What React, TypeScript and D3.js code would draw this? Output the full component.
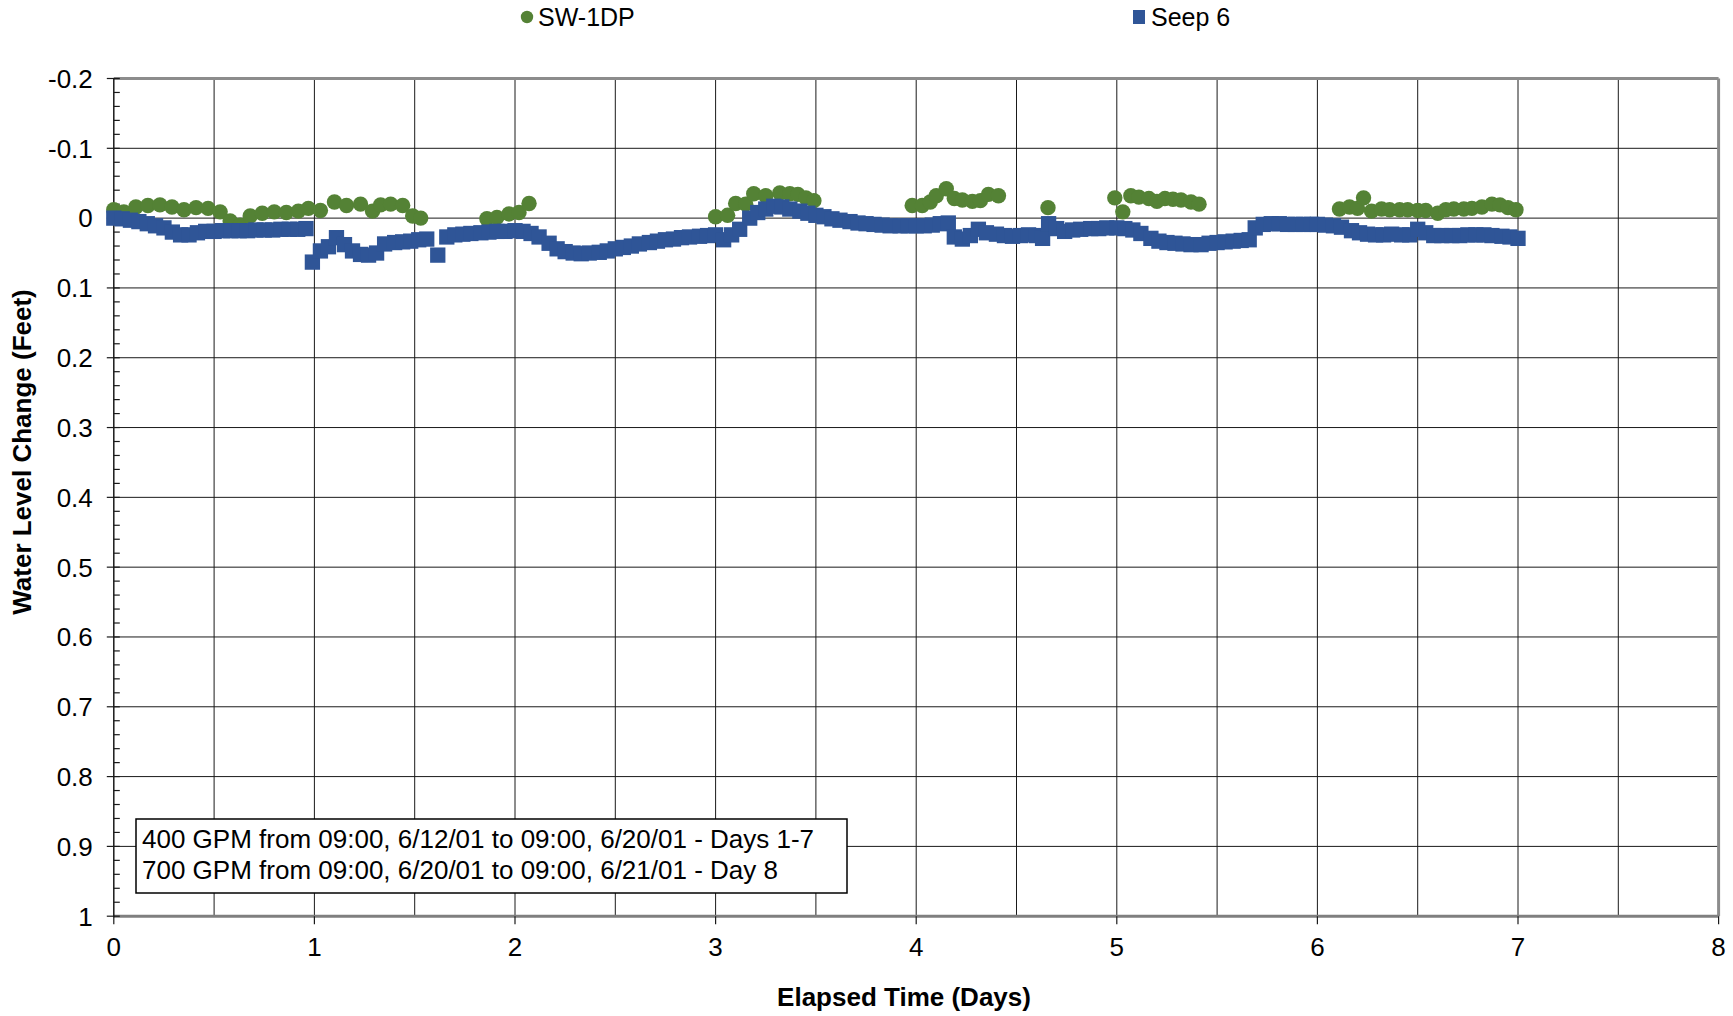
import React from "react";
import * as d3 from "d3";

const seepDays = [
  0, 0.042, 0.083, 0.125, 0.167, 0.208, 0.25, 0.292, 0.333, 0.375, 0.417, 0.458, 0.5, 0.542, 0.583, 0.625, 0.667,
  0.708, 0.75, 0.792, 0.833, 0.875, 0.917, 0.958,
  0.99, 1.03, 1.07, 1.11, 1.15, 1.19, 1.23, 1.27, 1.31, 1.35, 1.4, 1.44, 1.48, 1.52, 1.56, 1.615, 1.66, 1.7, 1.74,
  1.78, 1.83, 1.87, 1.91, 1.95, 2.0,
  2.04, 2.08, 2.12, 2.17, 2.21, 2.25, 2.29, 2.33, 2.37, 2.42, 2.46, 2.5, 2.54, 2.58, 2.62, 2.67, 2.71, 2.75, 2.79,
  2.83, 2.87, 2.92, 2.96, 3.0,
  3.04, 3.08, 3.12, 3.17, 3.21, 3.25, 3.29, 3.33, 3.37, 3.42, 3.46, 3.5, 3.54, 3.58, 3.62, 3.67, 3.71, 3.75, 3.79,
  3.83, 3.87, 3.92, 3.96, 4.0,
  4.04, 4.08, 4.12, 4.16, 4.19, 4.23, 4.27, 4.31, 4.35, 4.4, 4.44, 4.48, 4.52, 4.56, 4.6, 4.63, 4.66, 4.7, 4.74,
  4.78, 4.82, 4.87, 4.91, 4.95, 5.0,
  5.04, 5.08, 5.12, 5.17, 5.21, 5.25, 5.29, 5.33, 5.37, 5.42, 5.46, 5.5, 5.54, 5.58, 5.62, 5.66, 5.69, 5.73, 5.77,
  5.81, 5.85, 5.89, 5.93, 5.97, 6.0,
  6.04, 6.08, 6.12, 6.17, 6.21, 6.25, 6.29, 6.33, 6.37, 6.42, 6.46, 6.5, 6.54, 6.58, 6.62, 6.67, 6.71, 6.75, 6.79,
  6.83, 6.87, 6.92, 6.96, 7.0,
];
const seepValues = [
  0.0, 0.001, 0.003, 0.005, 0.008, 0.011, 0.014, 0.02, 0.024, 0.024, 0.021, 0.019, 0.019, 0.018, 0.018, 0.018, 0.018,
  0.017, 0.017, 0.017, 0.016, 0.016, 0.016, 0.015,
  0.063, 0.047, 0.041, 0.028, 0.038, 0.047, 0.052, 0.053, 0.05, 0.037, 0.035, 0.034, 0.033, 0.031, 0.03, 0.053,
  0.027, 0.024, 0.023, 0.022, 0.021, 0.02, 0.019, 0.019, 0.018,
  0.019, 0.022, 0.027, 0.036, 0.044, 0.048, 0.05, 0.051, 0.05, 0.049, 0.047, 0.044, 0.042, 0.04, 0.037, 0.035,
  0.033, 0.031, 0.03, 0.028, 0.027, 0.026, 0.025, 0.024,
  0.031, 0.024, 0.016, 0.0, -0.008, -0.013, -0.017, -0.016, -0.013, -0.01, -0.007, -0.004, -0.002, 0.001, 0.003,
  0.005, 0.007, 0.008, 0.009, 0.01, 0.011, 0.011, 0.011, 0.011,
  0.011, 0.01, 0.008, 0.007, 0.027, 0.03, 0.025, 0.016, 0.021, 0.023, 0.025, 0.026, 0.025, 0.024, 0.025, 0.029,
  0.008, 0.015, 0.019, 0.017, 0.016, 0.015, 0.015, 0.014, 0.014,
  0.015, 0.017, 0.022, 0.029, 0.033, 0.035, 0.036, 0.037, 0.038, 0.038, 0.036, 0.035, 0.034, 0.033, 0.032, 0.031,
  0.014, 0.009, 0.008, 0.008, 0.009, 0.009, 0.009, 0.009, 0.009,
  0.01, 0.011, 0.013, 0.018, 0.021, 0.023, 0.024, 0.024, 0.023, 0.024, 0.024, 0.016, 0.021, 0.025, 0.025, 0.025,
  0.025, 0.024, 0.024, 0.024, 0.025, 0.026, 0.027, 0.029,
];

const swDays = [0, 0.05, 0.11, 0.17, 0.23, 0.29, 0.35, 0.41, 0.47, 0.53, 0.58, 0.63, 0.68, 0.74, 0.8, 0.86, 0.92,
  0.97, 1.03, 1.1, 1.16, 1.23, 1.29, 1.33, 1.38, 1.44, 1.49, 1.53,
  1.86, 1.91, 1.97, 2.02, 2.07,
  3.0, 3.06, 3.1, 3.15, 3.19, 3.25, 3.32, 3.37, 3.41, 3.45, 3.49,
  3.98, 4.03, 4.07, 4.1, 4.15, 4.19, 4.23, 4.28, 4.32, 4.36, 4.41,
  4.657,
  4.99, 5.03, 5.07, 5.11, 5.16, 5.2, 5.24, 5.28, 5.32, 5.37, 5.41,
  6.11, 6.16, 6.2, 6.23, 6.27, 6.32, 6.36, 6.41, 6.45, 6.5, 6.54, 6.6, 6.64, 6.68, 6.73, 6.77, 6.82, 6.87, 6.91,
  6.95, 6.99];
const swValues = [-0.012, -0.009, -0.016, -0.018, -0.019, -0.016, -0.012, -0.015, -0.014, -0.009, 0.004, 0.01,
  -0.003, -0.007, -0.009, -0.008, -0.01, -0.014, -0.011, -0.023, -0.018, -0.02, -0.01, -0.019, -0.02, -0.018,
  -0.003, 0.0,
  0.001, -0.001, -0.006, -0.008, -0.021,
  -0.002, -0.004, -0.021, -0.02, -0.035, -0.032, -0.036, -0.035, -0.034, -0.029, -0.025,
  -0.018, -0.018, -0.023, -0.032, -0.042, -0.028, -0.026, -0.024, -0.025, -0.034, -0.032,
  -0.015,
  -0.029, -0.009, -0.032, -0.03, -0.028, -0.024, -0.028, -0.027, -0.026, -0.023, -0.02,
  -0.013, -0.016, -0.014, -0.029, -0.01, -0.013, -0.012, -0.012, -0.012, -0.011, -0.011, -0.007, -0.012, -0.013,
  -0.013, -0.014, -0.016, -0.02, -0.019, -0.015, -0.012];

const xTicks = [0, 1, 2, 3, 4, 5, 6, 7, 8];
const xGrid = [0.5, 1, 1.5, 2, 2.5, 3, 3.5, 4, 4.5, 5, 5.5, 6, 6.5, 7, 7.5];
const yTicks = [-0.2, -0.1, 0, 0.1, 0.2, 0.3, 0.4, 0.5, 0.6, 0.7, 0.8, 0.9, 1];
const yTickLabels = ["-0.2", "-0.1", "0", "0.1", "0.2", "0.3", "0.4", "0.5", "0.6", "0.7", "0.8", "0.9", "1"];
const yMinor = [-0.18, -0.16, -0.14, -0.12, -0.08, -0.06, -0.04, -0.02, 0.02, 0.04, 0.06, 0.08, 0.12, 0.14, 0.16,
  0.18, 0.22, 0.24, 0.26, 0.28, 0.32, 0.34, 0.36, 0.38, 0.42, 0.44, 0.46, 0.48, 0.52, 0.54, 0.56, 0.58, 0.62, 0.64,
  0.66, 0.68, 0.72, 0.74, 0.76, 0.78, 0.82, 0.84, 0.86, 0.88, 0.92, 0.94, 0.96, 0.98];
const seriesNames = ["SW-1DP", "Seep 6"];
const noteLines = [
  "400 GPM from 09:00, 6/12/01 to 09:00, 6/20/01 - Days 1-7",
  "700 GPM from 09:00, 6/20/01 to 09:00, 6/21/01 - Day 8",
];

const GREEN = "#548235";
const BLUE = "#2F5597";
const FONT = "'Liberation Sans', Arial, sans-serif";

export default function App() {
  const W = 1733, H = 1016;
  const L = 113.8, R = 1718.6, T = 78.5, B = 916.2;
  const x = d3.scaleLinear().domain([0, 8]).range([L, R]);
  const y = d3.scaleLinear().domain([-0.2, 1]).range([T, B]);
  const sq = 15.3;
  return (
    <svg width={W} height={H} style={{ position: "absolute", left: 0, top: 0, background: "#fff" }}
      fontFamily={FONT}>
      <rect x={0} y={0} width={W} height={H} fill="#fff" />
      {yTicks.slice(1, -1).map((t) => (
        <line key={"hg" + t} x1={L} x2={R} y1={y(t)} y2={y(t)} stroke="#1a1a1a" strokeWidth={1} />
      ))}
      {xGrid.map((t) => (
        <line key={"vg" + t} x1={x(t)} x2={x(t)} y1={T} y2={B} stroke="#1a1a1a" strokeWidth={1} />
      ))}
      <line x1={L} x2={R} y1={T} y2={T} stroke="#8c8c8c" strokeWidth={3} />
      <line x1={R} x2={R} y1={T} y2={B} stroke="#8c8c8c" strokeWidth={3} />
      <line x1={L} x2={R} y1={B} y2={B} stroke="#7f7f7f" strokeWidth={3} />
      <line x1={L} x2={L} y1={T} y2={B + 1} stroke="#1a1a1a" strokeWidth={1.5} />
      {yTicks.map((t) => (
        <line key={"yt" + t} x1={L - 7} x2={L + 6} y1={y(t)} y2={y(t)} stroke="#1a1a1a" strokeWidth={1.2} />
      ))}
      {yMinor.map((t) => (
        <line key={"ym" + t} x1={L} x2={L + 6} y1={y(t)} y2={y(t)} stroke="#1a1a1a" strokeWidth={1.2} />
      ))}
      {yTicks.map((t, i) => (
        <text key={"yl" + t} x={L - 21} y={y(t)} dy="0.36em" textAnchor="end" fontSize={26} fill="#000">
          {yTickLabels[i]}
        </text>
      ))}
      {xTicks.map((t) => (
        <line key={"xt" + t} x1={x(t)} x2={x(t)} y1={B} y2={B + 8} stroke="#1a1a1a" strokeWidth={1.2} />
      ))}
      {xTicks.map((t) => (
        <text key={"xl" + t} x={x(t)} y={956} textAnchor="middle" fontSize={26} fill="#000">
          {t}
        </text>
      ))}
      <g>
        {swDays.map((d, i) => (
          <circle key={"g" + i} cx={x(d)} cy={y(swValues[i])} r={7.7} fill={GREEN} />
        ))}
      </g>
      <g>
        {seepDays.map((d, i) => (
          <rect key={"b" + i} x={x(d) - sq / 2} y={y(seepValues[i]) - sq / 2} width={sq} height={sq} fill={BLUE} />
        ))}
      </g>
      <rect x={136} y={819} width={711} height={74} fill="#fff" stroke="#000" strokeWidth={1.5} />
      {noteLines.map((s, i) => (
        <text key={"n" + i} x={142} y={848 + i * 31} fontSize={26} fill="#000">
          {s}
        </text>
      ))}
      <text x={904} y={1006} textAnchor="middle" fontSize={26} fontWeight="bold" fill="#000">
        Elapsed Time (Days)
      </text>
      <text transform="translate(31,452) rotate(-90)" textAnchor="middle" fontSize={26} fontWeight="bold" fill="#000">
        Water Level Change (Feet)
      </text>
      <circle cx={527} cy={17} r={6.2} fill={GREEN} />
      <text x={538} y={26} fontSize={25} fill="#000">{seriesNames[0]}</text>
      <rect x={1133} y={10} width={12} height={14} fill={BLUE} />
      <text x={1151} y={26} fontSize={25} fill="#000">{seriesNames[1]}</text>
    </svg>
  );
}
